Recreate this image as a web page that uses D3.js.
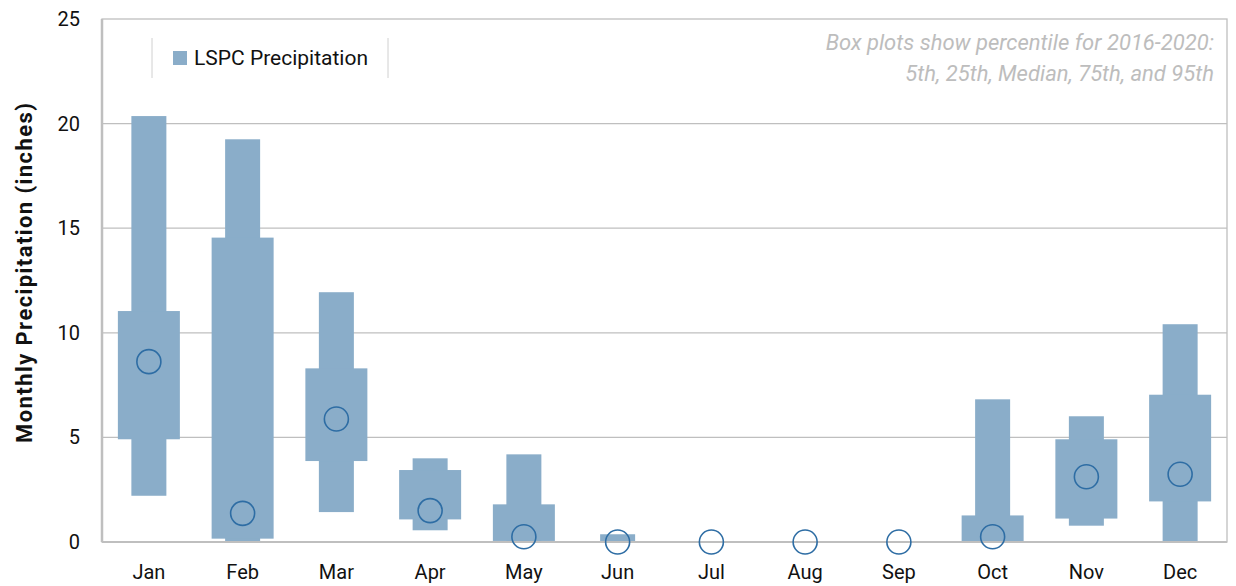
<!DOCTYPE html>
<html>
<head>
<meta charset="utf-8">
<script src="https://cdn.jsdelivr.net/npm/d3@7"></script>
<style>
  body { margin: 0; background: #fff; }
  text { font-family: Roboto, "Open Sans", sans-serif; }
</style>
</head>
<body>
<div class="chart"></div>
<script>
// percentiles, inches
var months = ["Jan", "Feb", "Mar", "Apr", "May", "Jun", "Jul", "Aug", "Sep", "Oct", "Nov", "Dec"];
var p5     = [2.21, 0.02, 1.43, 0.56, 0.0, 0.0, 0, 0, 0, 0.0, 0.78, 0.0];
var p25    = [4.91, 0.16, 3.87, 1.08, 0.05, 0.0, 0, 0, 0, 0.0, 1.12, 1.94];
var median = [8.62, 1.37, 5.88, 1.50, 0.25, 0.0, 0, 0, 0, 0.25, 3.12, 3.24];
var p75    = [11.04, 14.55, 8.30, 3.44, 1.80, 0.0, 0, 0, 0, 1.27, 4.91, 7.04];
var p95    = [20.36, 19.25, 11.94, 4.00, 4.19, 0.37, 0, 0, 0, 6.82, 6.01, 10.41];
var yTicks = [0, 5, 10, 15, 20, 25];

var margin = { top: 19, right: 9, bottom: 44, left: 102 },
    width = 1236 - margin.left - margin.right,
    height = 586 - margin.top - margin.bottom;

var boxColor = "#8aadc9",
    medColor = "#2e6da4",
    gridColor = "#bfbfbf";

var svg = d3.select(".chart")
    .append("svg")
    .attr("width", 1236)
    .attr("height", 586)
    .append("g")
    .attr("transform", "translate(" + margin.left + "," + margin.top + ")");

var x = d3.scaleBand().domain(months).range([0, width]);
var y = d3.scaleLinear().domain([0, 25]).range([height, 0]);

// gridlines
svg.selectAll(".grid")
    .data(yTicks.filter(function (d) { return d > 0 && d < 25; }))
    .enter().append("line")
    .attr("x1", 0).attr("x2", width)
    .attr("y1", function (d) { return y(d); })
    .attr("y2", function (d) { return y(d); })
    .attr("stroke", gridColor)
    .attr("stroke-width", 1.3);

// frame
svg.append("rect")
    .attr("x", 0).attr("y", 0)
    .attr("width", width).attr("height", height)
    .attr("fill", "none")
    .attr("stroke", gridColor)
    .attr("stroke-width", 1.3);

var data = months.map(function (m, i) {
    return { m: m, p5: p5[i], p25: p25[i], med: median[i], p75: p75[i], p95: p95[i] };
});

var narrow = 35, wide = 62;

// 5th-95th
svg.selectAll(".outer")
    .data(data)
    .enter().append("rect")
    .attr("x", function (d) { return x(d.m) + x.bandwidth() / 2 - narrow / 2; })
    .attr("width", narrow)
    .attr("y", function (d) { return y(d.p95); })
    .attr("height", function (d) { return y(d.p5) - y(d.p95); })
    .attr("fill", boxColor);

// 25th-75th
svg.selectAll(".inner")
    .data(data)
    .enter().append("rect")
    .attr("x", function (d) { return x(d.m) + x.bandwidth() / 2 - wide / 2; })
    .attr("width", wide)
    .attr("y", function (d) { return y(d.p75); })
    .attr("height", function (d) { return y(d.p25) - y(d.p75); })
    .attr("fill", boxColor);

// axes lines
svg.append("line")
    .attr("x1", 0).attr("x2", width)
    .attr("y1", height).attr("y2", height)
    .attr("stroke", gridColor).attr("stroke-width", 2);
svg.append("line")
    .attr("x1", 0).attr("x2", 0)
    .attr("y1", 0).attr("y2", height)
    .attr("stroke", gridColor).attr("stroke-width", 2.5);

// medians
svg.selectAll(".med")
    .data(data)
    .enter().append("circle")
    .attr("cx", function (d) { return x(d.m) + x.bandwidth() / 2; })
    .attr("cy", function (d) { return y(d.med); })
    .attr("r", 12)
    .attr("fill", "none")
    .attr("stroke", medColor)
    .attr("stroke-width", 1.6);

// y axis
var yAxis = svg.append("g")
    .call(d3.axisLeft(y).tickValues(yTicks).tickSize(0).tickPadding(22));
yAxis.select(".domain").remove();
yAxis.selectAll("text")
    .style("font-size", "20px")
    .attr("fill", "#111")
    .style("font-family", "Roboto, sans-serif");

// x axis
var xAxis = svg.append("g")
    .attr("transform", "translate(0," + height + ")")
    .call(d3.axisBottom(x).tickSize(0).tickPadding(23));
xAxis.select(".domain").remove();
xAxis.selectAll("text")
    .style("font-size", "20px")
    .attr("fill", "#111")
    .style("font-family", "Roboto, sans-serif");

svg.append("text")
    .attr("transform", "rotate(-90)")
    .attr("x", -254)
    .attr("y", -margin.left + 32)
    .attr("text-anchor", "middle")
    .attr("textLength", 340)
    .attr("lengthAdjust", "spacing")
    .style("font-size", "22px")
    .style("font-weight", "bold")
    .attr("fill", "#111")
    .text("Monthly Precipitation (inches)");

// legend
var leg = svg.append("g").attr("transform", "translate(50,19)");
leg.append("line").attr("x1", 0).attr("x2", 0).attr("y1", 0).attr("y2", 40)
    .attr("stroke", "#d0d0d0");
leg.append("line").attr("x1", 236).attr("x2", 236).attr("y1", 0).attr("y2", 40)
    .attr("stroke", "#d0d0d0");
leg.append("rect").attr("x", 21).attr("y", 13).attr("width", 14).attr("height", 14)
    .attr("fill", boxColor);
leg.append("text").attr("x", 42).attr("y", 27)
    .style("font-size", "21px")
    .attr("fill", "#111")
    .text("LSPC Precipitation");

// note
var note = ["Box plots show percentile for 2016-2020:", "5th, 25th, Median, 75th, and 95th"];
svg.selectAll(".note")
    .data(note)
    .enter().append("text")
    .attr("x", width - 13)
    .attr("y", function (d, i) { return 31 + i * 31; })
    .attr("text-anchor", "end")
    .style("font-size", "22px")
    .style("font-style", "italic")
    .attr("fill", "#bdbdbd")
    .text(function (d) { return d; });
</script>
</body>
</html>
